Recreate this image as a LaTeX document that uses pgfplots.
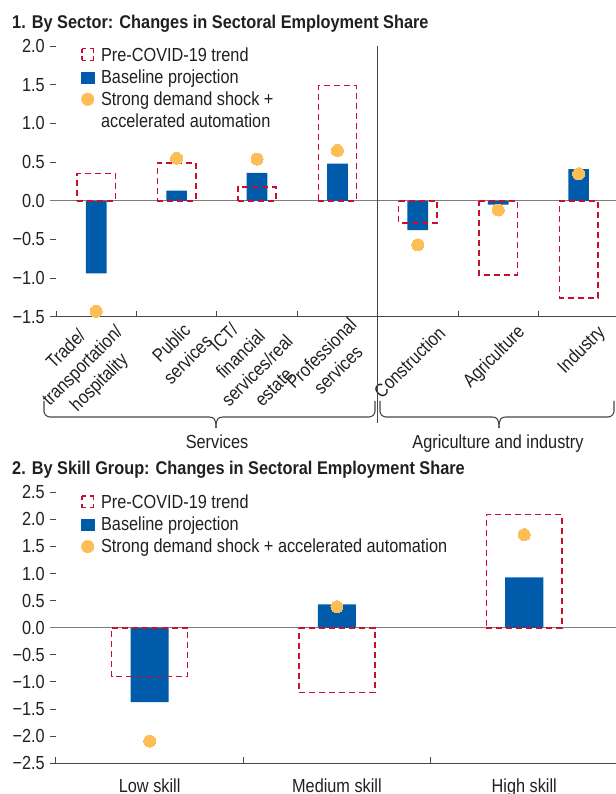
\documentclass[border=0pt]{standalone}
\usepackage{fontspec}
\setmainfont{Liberation Sans}[FakeStretch=0.86]
\newfontfamily\titlefont{Liberation Sans}[FakeStretch=0.885]
\usepackage{pgfplots}
\pgfplotsset{compat=1.18}
\definecolor{imfblue}{RGB}{0,92,170}
\definecolor{imfred}{RGB}{200,16,46}
\definecolor{imfyellow}{RGB}{253,190,87}
\definecolor{txt}{RGB}{35,31,32}
\definecolor{axgray}{RGB}{70,70,70}
\definecolor{zgray}{RGB}{125,125,125}
\newcommand{\fs}{\fontsize{19}{22}\selectfont}
\newcommand{\ls}{\fontsize{19}{23.5}\selectfont}
\newcommand{\ts}{\titlefont\bfseries\fontsize{18.5}{22}\selectfont}

\pgfplotsset{
  common/.style={
    scale only axis, clip=false,
    axis x line=bottom, axis y line=left, axis line style={-},
    x axis line style={axgray, line width=1bp},
    y axis line style={draw=none},
    tick align=inside, major tick length=6bp,
    tick style={axgray, line width=1bp},
    tick label style={font=\fs, text=txt},
    yticklabel style={inner sep=0pt, xshift=-5bp},
    legend style={anchor=north west, draw=none, fill=none, inner sep=0pt, outer sep=0pt,
      row sep=4.3bp, column sep=6.7bp,
      nodes={inner sep=0pt, text height=14bp, text depth=4bp, font=\fs, text=txt},
      cells={anchor=base west}},
  },
  boxleg/.style={legend image code/.code={
    \draw[imfred, line width=1.3bp, dash pattern=on 4bp off 3.6bp] (0.7bp,0.7bp) -- (12.3bp,0.7bp);
    \draw[imfred, line width=1.3bp, dash pattern=on 4bp off 3.6bp] (12.3bp,0.7bp) -- (12.3bp,12.3bp);
    \draw[imfred, line width=1.3bp, dash pattern=on 4bp off 3.6bp] (12.3bp,12.3bp) -- (0.7bp,12.3bp);
    \draw[imfred, line width=1.3bp, dash pattern=on 4bp off 3.6bp] (0.7bp,12.3bp) -- (0.7bp,0.7bp);}},
  barleg/.style={legend image code/.code={\fill[imfblue] (0bp,0bp) rectangle (13bp,11bp);}},
  dotleg/.style={legend image code/.code={\fill[imfyellow] (6.5bp,6.3bp) circle[radius=6.3bp];}},
  boxstyle/.style={ybar, bar shift=0pt, fill=none, draw=imfred, line width=1.5bp, dash pattern=on 6bp off 4bp, forget plot},
  barstyle/.style={ybar, bar shift=0pt, fill=imfblue, draw=none, forget plot},
  dotstyle/.style={imfyellow, only marks, mark=*, mark size=6bp, mark options={draw=imfyellow, fill=imfyellow, line width=0pt}, forget plot},
}

\begin{document}
\begin{tikzpicture}[x=1bp,y=1bp]

% ---------- Panel 1 ----------
\node[anchor=base west, font=\ts, text=txt, inner sep=0pt] at (12,765.7) {1. By Sector: Changes in Sectoral Employment Share};

\begin{axis}[common, name=p1,
  at={(50bp,477.3bp)}, anchor=south west, width=566bp, height=270.5bp,
  xmin=-0.575, xmax=6.465, ymin=-1.5, ymax=2.0,
  ytick={-1.5,-1,-0.5,0,0.5,1,1.5,2},
  yticklabels={−1.5,−1.0,−0.5,0.0,0.5,1.0,1.5,2.0},
  xtick={-0.5,0.5,1.5,2.5,3.5,4.5,5.5},
  xticklabels={,,,,,,},
  extra x ticks={0,1,2,3,4,5,6},
  extra x tick labels={{Trade/\\transportation/\\hospitality},{Public\\services},{ICT/\\financial\\services/real\\estate},{Professional\\services},Construction,Agriculture,Industry},
  extra x tick style={major tick length=0pt, tick style={draw=none},
    xticklabel style={font=\ls, text=txt, align=center, inner sep=0pt, xshift=24bp, yshift=-13bp, rotate=45, anchor=east}},
  legend style={at={(0.0548,0.997)}},
]
\addlegendimage{boxleg}\addlegendentry{Pre-COVID-19 trend}
\addlegendimage{barleg}\addlegendentry{Baseline projection}
\addlegendimage{dotleg}\addlegendentry{Strong demand shock +}
\addlegendimage{empty legend}\addlegendentry{accelerated automation}

\addplot[zgray, line width=1bp, forget plot] coordinates {(-0.575,0) (6.465,0)};
\addplot[barstyle, bar width=0.257] coordinates {(0,-0.94) (1,0.13) (2,0.36) (3,0.48) (4,-0.38) (5,-0.05) (6,0.41)};
\addplot[boxstyle, bar width=0.477] coordinates {(0,0.35) (1,0.49) (2,0.18) (3,1.49) (4,-0.29) (5,-0.96) (6,-1.26)};
\addplot[dotstyle] coordinates {(0,-1.43) (1,0.55) (2,0.54) (3,0.65) (4,-0.57) (5,-0.12) (6,0.35)};
\end{axis}

% divider and braces
\draw[axgray, line width=1bp] (377.7,747.8) -- (377.7,371);
\draw[axgray, line width=1.1bp, rounded corners=6bp] (44,393) -- (44,377) -- (209,377);
\draw[axgray, line width=1.1bp] (209,377) .. controls (214,377) and (216,375) .. (216,366);
\draw[axgray, line width=1.1bp] (216,366) .. controls (216,375) and (218,377) .. (223,377);
\draw[axgray, line width=1.1bp, rounded corners=6bp] (223,377) -- (375,377) -- (375,393);
\draw[axgray, line width=1.1bp, rounded corners=6bp] (380,393) -- (380,377) -- (492,377);
\draw[axgray, line width=1.1bp] (492,377) .. controls (497,377) and (499,375) .. (499,366);
\draw[axgray, line width=1.1bp] (499,366) .. controls (499,375) and (501,377) .. (506,377);
\draw[axgray, line width=1.1bp, rounded corners=6bp] (506,377) -- (614,377) -- (614,393);
\node[font=\fs, text=txt, anchor=base] at (217,345) {Services};
\node[font=\fs, text=txt, anchor=base] at (498,345) {Agriculture and industry};

% ---------- Panel 2 ----------
\node[anchor=base west, font=\ts, text=txt, inner sep=0pt] at (12,319) {2. By Skill Group: Changes in Sectoral Employment Share};

\begin{axis}[common, name=p2,
  at={(50bp,30.7bp)}, anchor=south west, width=566bp, height=271bp,
  xmin=-0.532, xmax=2.49, ymin=-2.5, ymax=2.5,
  ytick={-2.5,-2,-1.5,-1,-0.5,0,0.5,1,1.5,2,2.5},
  yticklabels={−2.5,−2.0,−1.5,−1.0,−0.5,0.0,0.5,1.0,1.5,2.0,2.5},
  xtick={-0.5,0.5,1.5},
  xticklabels={,,},
  extra x ticks={0,1,2},
  extra x tick labels={Low skill,Medium skill,High skill},
  extra x tick style={major tick length=0pt, tick style={draw=none},
    xticklabel style={font=\fs, text=txt, inner sep=0pt, yshift=-15bp, anchor=north}},
  legend style={at={(0.0548,0.9926)}},
]
\addlegendimage{boxleg}\addlegendentry{Pre-COVID-19 trend}
\addlegendimage{barleg}\addlegendentry{Baseline projection}
\addlegendimage{dotleg}\addlegendentry{Strong demand shock + accelerated automation}

\addplot[zgray, line width=1bp, forget plot] coordinates {(-0.532,0) (2.49,0)};
\addplot[barstyle, bar width=0.203] coordinates {(0,-1.37) (1,0.43) (2,0.93)};
\addplot[boxstyle, bar width=0.405] coordinates {(0,-0.90) (1,-1.19) (2,2.09)};
\addplot[dotstyle] coordinates {(0,-2.09) (1,0.39) (2,1.72)};
\end{axis}

\pgfresetboundingbox
\path[use as bounding box] (0,0) rectangle (616,794);
\end{tikzpicture}
\end{document}
